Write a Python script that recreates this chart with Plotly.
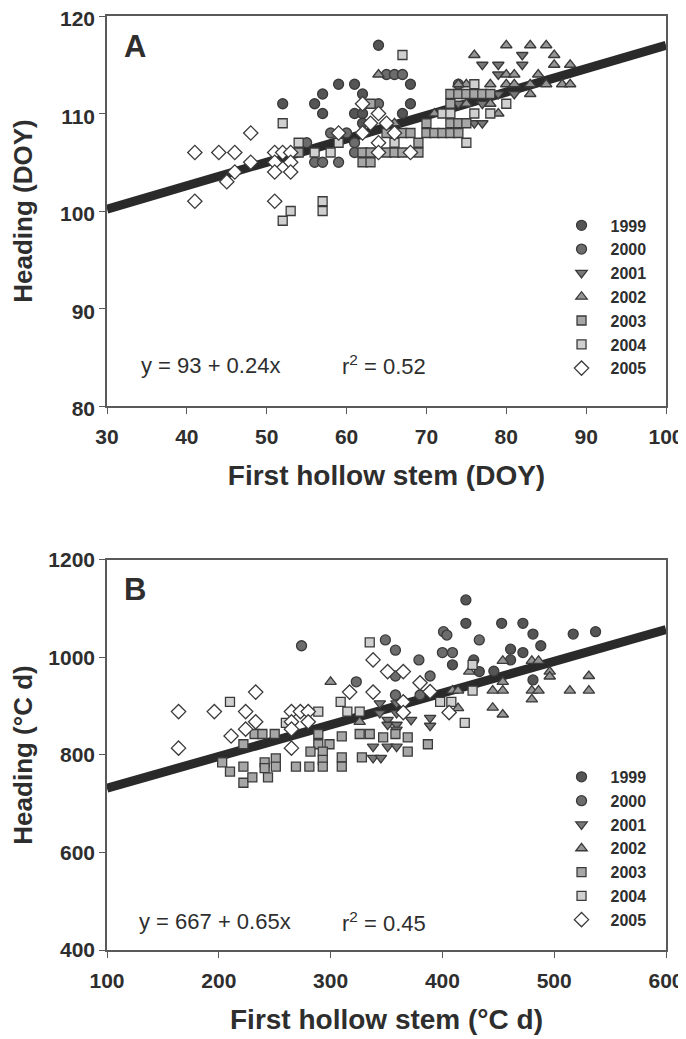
import plotly.graph_objects as go

years = ["1999", "2000", "2001", "2002", "2003", "2004", "2005"]

# ---------------- Panel A: DOY ----------------
a_1999_x = [52, 56, 57, 57, 59, 61, 61, 62, 62, 62, 64, 68, 68, 67]
a_1999_y = [111, 111, 112, 110, 113, 113, 110, 110, 109, 112, 117, 113, 111, 110]
a_2000_x = [55, 56, 57, 59, 58, 60, 61, 61, 65, 66, 67, 64, 74]
a_2000_y = [107, 105, 105, 105, 108, 108, 107, 106, 114, 114, 114, 111, 113]
a_2001_x = [77, 79, 82, 82, 79, 79, 81, 74, 77, 76, 77]
a_2001_y = [115, 115, 115, 116, 114, 112, 112, 111, 111, 109, 109]
a_2002_x = [76, 80, 83, 85, 86, 86, 88, 80, 81, 84, 78, 80, 81, 83, 85, 87, 88, 83, 75, 74, 75, 78, 79, 71, 64, 66]
a_2002_y = [116, 117, 117, 117, 116, 115, 115, 114, 114, 114, 113, 113, 113, 113, 113, 113, 113, 112, 113, 113, 111, 111, 110, 110, 114, 109]
a_2003_x = [54, 62, 63, 62, 63, 63, 65, 67, 68, 70, 70, 71, 72, 73, 74, 69, 65, 66, 67, 69, 73, 74, 75, 76, 77, 78, 73, 73, 74, 75]
a_2003_y = [106, 106, 106, 105, 105, 111, 108, 108, 108, 109, 108, 108, 108, 108, 108, 107, 106, 106, 106, 106, 112, 112, 112, 112, 112, 112, 111, 109, 109, 109]
a_2004_x = [52, 67, 57, 57, 53, 52, 75, 76, 78, 80, 76, 54, 56, 58, 59, 66, 72, 73]
a_2004_y = [109, 116, 101, 100, 100, 99, 107, 110, 110, 111, 113, 107, 106, 106, 107, 107, 110, 110]
a_2005_x = [41, 44, 46, 48, 48, 46, 45, 41, 51, 52, 53, 51, 53, 51, 53, 51, 59, 62, 62, 63, 64, 65, 64, 64, 66, 68]
a_2005_y = [106, 106, 106, 108, 105, 104, 103, 101, 106, 106, 106, 105, 105, 104, 104, 101, 108, 111, 108, 109, 110, 109, 107, 106, 108, 106]
a_intercept, a_slope, a_r2 = 93, 0.24, 0.52
a_xrange = [30, 100]

# ---------------- Panel B: thermal time ----------------
b_1999_x = [421, 421, 453, 472, 481, 517, 537, 488, 461, 472, 461, 433, 446, 481, 409, 428]
b_1999_y = [1118, 1070, 1070, 1070, 1048, 1048, 1053, 1024, 1017, 1010, 995, 971, 972, 954, 985, 995]
b_2000_x = [274, 323, 349, 358, 358, 358, 401, 404, 433, 400, 409, 379, 380, 389]
b_2000_y = [1024, 950, 1036, 1015, 962, 923, 1053, 1046, 1036, 1010, 1010, 995, 923, 962]
b_2001_x = [344, 359, 344, 359, 351, 351, 359, 359, 372, 389, 389, 338, 351, 359, 338, 345]
b_2001_y = [906, 906, 886, 886, 872, 862, 862, 852, 872, 876, 860, 817, 817, 817, 794, 794]
b_2002_x = [300, 326, 424, 454, 480, 486, 496, 496, 531, 445, 454, 480, 486, 480, 514, 531, 454, 445, 454, 409, 414, 414]
b_2002_y = [950, 868, 971, 993, 993, 993, 971, 961, 962, 932, 932, 932, 932, 914, 932, 932, 950, 897, 883, 932, 932, 896]
b_2003_x = [222, 232, 239, 250, 289, 289, 299, 310, 282, 326, 335, 358, 203, 210, 222, 222, 230, 241, 241, 244, 251, 251, 269, 281, 293, 293, 293, 310, 310, 328, 347, 369, 387, 369]
b_2003_y = [822, 843, 843, 843, 843, 822, 822, 838, 807, 843, 843, 843, 785, 766, 776, 743, 754, 785, 773, 754, 793, 776, 776, 776, 807, 790, 776, 795, 776, 795, 836, 836, 822, 807]
b_2004_x = [335, 210, 309, 315, 326, 289, 427, 427, 398, 408, 420, 260]
b_2004_y = [1031, 909, 909, 889, 889, 889, 985, 932, 909, 909, 866, 866]
b_2005_x = [164, 164, 196, 224, 233, 233, 224, 211, 265, 273, 280, 265, 280, 265, 265, 317, 338, 338, 351, 365, 380, 389, 365, 365, 406]
b_2005_y = [889, 814, 889, 889, 929, 868, 853, 839, 889, 889, 889, 868, 868, 853, 814, 929, 929, 995, 971, 971, 948, 930, 909, 887, 887]
b_intercept, b_slope, b_r2 = 667, 0.65, 0.45
b_xrange = [100, 600]

# ---------------- styling ----------------
FONT = "Liberation Sans"
TXT = "#2e2e2e"
EDGE = "#3a3a3a"
style = {
    "1999": dict(symbol="circle", color="#555555", size=10),
    "2000": dict(symbol="circle", color="#6c6c6c", size=10),
    "2001": dict(symbol="triangle-down", color="#787878", size=10),
    "2002": dict(symbol="triangle-up", color="#959595", size=10),
    "2003": dict(symbol="square", color="#a6a6a6", size=9),
    "2004": dict(symbol="square", color="#d0d0d0", size=9),
    "2005": dict(symbol="diamond", color="#ffffff", size=11),
}

panel_a = dict(zip(years, [(a_1999_x, a_1999_y), (a_2000_x, a_2000_y), (a_2001_x, a_2001_y),
                           (a_2002_x, a_2002_y), (a_2003_x, a_2003_y), (a_2004_x, a_2004_y),
                           (a_2005_x, a_2005_y)]))
panel_b = dict(zip(years, [(b_1999_x, b_1999_y), (b_2000_x, b_2000_y), (b_2001_x, b_2001_y),
                           (b_2002_x, b_2002_y), (b_2003_x, b_2003_y), (b_2004_x, b_2004_y),
                           (b_2005_x, b_2005_y)]))

fig = go.Figure()

# regression lines (drawn beneath markers)
for (xr, a0, b1, xa, ya) in [(a_xrange, a_intercept, a_slope, "x", "y"),
                             (b_xrange, b_intercept, b_slope, "x2", "y2")]:
    fig.add_trace(go.Scatter(x=xr, y=[a0 + b1 * v for v in xr], mode="lines",
                             line=dict(color="#2a2a2a", width=9), showlegend=False,
                             xaxis=xa, yaxis=ya, hoverinfo="skip"))

for panel, xa, ya, leg, pre in [(panel_a, "x", "y", "legend", "A"),
                                (panel_b, "x2", "y2", "legend2", "B")]:
    for yr in years:
        xs, ys = panel[yr]
        s = style[yr]
        fig.add_trace(go.Scatter(
            x=xs, y=ys, mode="markers", name=yr, legend=leg, legendgroup=pre + yr,
            xaxis=xa, yaxis=ya,
            marker=dict(symbol=s["symbol"], color=s["color"], size=s["size"],
                        line=dict(color=EDGE, width=1.3))))

tickfont = dict(family=FONT, size=21, color=TXT, weight="bold")
xtitlefont = dict(family=FONT, size=28, color=TXT, weight="bold")
ytitlefont = dict(family=FONT, size=26, color=TXT, weight="bold")
axis_common = dict(showline=True, linecolor="#5a5a5a", linewidth=1.5, mirror=True,
                   ticks="outside", ticklen=6, tickcolor="#5a5a5a", tickwidth=1.3,
                   showgrid=False, zeroline=False, tickfont=tickfont, automargin=False,
                   ticklabeloverflow="allow")

# the page body adds an 8 px offset, so margins are shifted to compensate
fig.update_layout(
    width=686, height=1039,
    margin=dict(l=99, r=28, t=8, b=97),
    paper_bgcolor="white", plot_bgcolor="white",
    showlegend=True,
    xaxis=dict(domain=[0, 1], anchor="y", range=a_xrange, dtick=10, ticklabelstandoff=5,
               title=dict(text="First hollow stem (DOY)", font=xtitlefont, standoff=18), **axis_common),
    yaxis=dict(domain=[0.5824, 1], anchor="x", range=[80, 120], dtick=10, ticklabelshift=3,
               title=dict(text="Heading (DOY)", font=ytitlefont, standoff=20), **axis_common),
    xaxis2=dict(domain=[0, 1], anchor="y2", range=b_xrange, dtick=100, ticklabelstandoff=5,
                title=dict(text="First hollow stem (°C d)", font=xtitlefont, standoff=18), **axis_common),
    yaxis2=dict(domain=[0, 0.4176], anchor="x2", range=[400, 1200], dtick=200,
                title=dict(text="Heading (°C d)", font=ytitlefont, standoff=20), **axis_common),
    legend=dict(x=0.797, y=0.794, xanchor="left", yanchor="top", traceorder="grouped",
                tracegroupgap=0, itemwidth=48, bgcolor="rgba(0,0,0,0)",
                font=dict(family=FONT, size=16, color=TXT, weight="bold")),
    legend2=dict(x=0.797, y=0.2035, xanchor="left", yanchor="top", traceorder="grouped",
                 tracegroupgap=0, itemwidth=48, bgcolor="rgba(0,0,0,0)",
                 font=dict(family=FONT, size=16, color=TXT, weight="bold")),
)

eqfont = dict(family=FONT, size=22, color=TXT)
ann = [
    dict(text="A", xref="x domain", yref="y domain", x=0.027, y=0.922, xanchor="left", yanchor="middle",
         font=dict(family=FONT, size=31, color=TXT, weight="bold")),
    dict(text="B", xref="x2 domain", yref="y2 domain", x=0.027, y=0.925, xanchor="left", yanchor="middle",
         font=dict(family=FONT, size=31, color=TXT, weight="bold")),
    dict(text=f"y = {a_intercept} + {a_slope}x", xref="x domain", yref="y domain", x=0.058, y=0.105,
         xanchor="left", yanchor="middle", font=eqfont),
    dict(text=f"r<sup>2</sup> = {a_r2}", xref="x domain", yref="y domain", x=0.417, y=0.105,
         xanchor="left", yanchor="middle", font=eqfont),
    dict(text=f"y = {b_intercept} + {b_slope}x", xref="x2 domain", yref="y2 domain", x=0.053, y=0.072,
         xanchor="left", yanchor="middle", font=eqfont),
    dict(text=f"r<sup>2</sup> = {b_r2}", xref="x2 domain", yref="y2 domain", x=0.417, y=0.072,
         xanchor="left", yanchor="middle", font=eqfont),
]
for a in ann:
    a["showarrow"] = False
fig.update_layout(annotations=ann)

fig.write_html("out.html")
